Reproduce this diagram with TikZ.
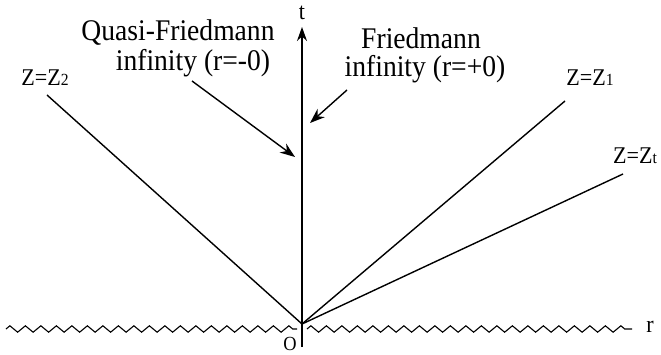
\documentclass[tikz,border=0pt]{standalone}
\usepackage{fontspec}
\setmainfont{Liberation Serif}
\newfontfamily\narrowserif[FakeStretch=0.92]{Liberation Serif}
\usetikzlibrary{arrows.meta,decorations.pathmorphing}
\tikzset{
  lab/.style={inner sep=0pt, font=\narrowserif\fontsize{30}{30}\selectfont, align=center},
  zlab/.style={inner sep=0pt, font=\narrowserif\fontsize{24}{26}\selectfont},
  ray/.style={line width=1.4pt},
  pointer/.style={line width=1.4pt, -{Stealth[length=15pt,width=11pt]}},
  wavy/.style={line width=1.1pt, decorate, decoration={zigzag, segment length=15.5pt, amplitude=3.2pt}}
}
\newcommand{\sub}[1]{{\fontsize{17}{17}\selectfont #1}}
\begin{document}
\begin{tikzpicture}[x=1pt,y=-1pt]
\useasboundingbox (0,0) rectangle (661,355);
\coordinate (O) at (302,324);
\coordinate (tbot) at (302,347);
\coordinate (ttop) at (302,27);
\coordinate (z2end) at (47,95);
\coordinate (z1end) at (565,101);
\coordinate (ztend) at (623,174);
\coordinate (wl1) at (6,329);
\coordinate (wl2) at (297,329);
\coordinate (wr1) at (307,329);
\coordinate (wr2) at (632,329);
\coordinate (qs) at (192,81);
\coordinate (qt) at (295,157);
\coordinate (fs) at (347,90);
\coordinate (ft) at (310,123);

\draw[wavy] (wl1) -- (wl2);
\draw[wavy] (wr1) -- (wr2);
\draw[ray, -{Stealth[length=14pt,width=10pt]}] (tbot) -- (ttop);
\draw[ray] (z2end) -- (O);
\draw[ray] (z1end) -- (O);
\draw[ray] (ztend) -- (O);
\draw[pointer] (qs) -- (qt);
\draw[pointer] (fs) -- (ft);

\node[zlab] (tl) at (302,13) {t};
\node[zlab] (rl) at (650,327) {r};
\node[inner sep=0pt, font=\narrowserif\fontsize{20}{20}\selectfont, anchor=base] (ol) at (290,350) {O};
\node[zlab] (z2) at (45,78) {Z=Z\sub{2}};
\node[zlab] (z1) at (590,78) {Z=Z\sub{1}};
\node[zlab] (zt) at (635,156) {Z=Z\sub{t}};
\node[lab] (q1) at (178,33) {Quasi-Friedmann};
\node[lab] (q2) at (193,63) {infinity (r=-0)};
\node[lab] (f1) at (421,38) {Friedmann};
\node[lab] (f2) at (425,69) {infinity (r=+0)};
\end{tikzpicture}
\end{document}
